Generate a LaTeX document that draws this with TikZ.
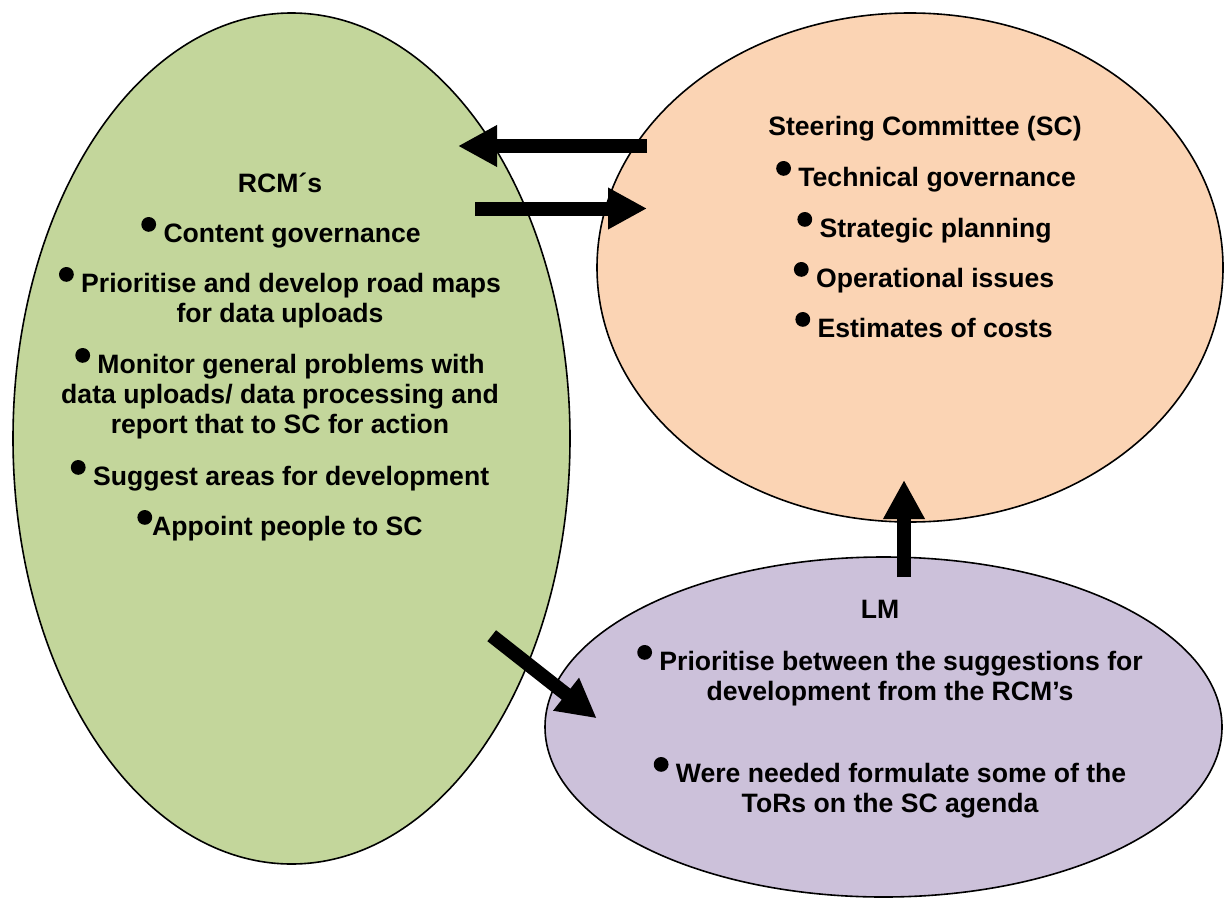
\documentclass[tikz,border=0pt]{standalone}
\usepackage{fontspec}
\setmainfont{Liberation Sans}
\usetikzlibrary{arrows.meta,shapes.geometric}

\definecolor{rcmgreen}{RGB}{195,214,155}
\definecolor{scorange}{RGB}{251,212,180}
\definecolor{lmpurple}{RGB}{204,193,218}
\newcommand{\bul}{\tikz[baseline=-8.8pt]\fill (0,0) circle (3.7pt);}

\begin{document}
\begin{tikzpicture}[x=0.5pt,y=-0.5pt,
        bubble/.style={draw,ellipse,line width=0.8pt,inner sep=0pt},
        txt/.style={font=\bfseries\fontsize{13.3}{15}\selectfont,align=center,anchor=base,inner sep=0pt},
        fat/.style={line width=7pt,-{Triangle[width=19.5pt,length=19.5pt]}}]
        \useasboundingbox (0,0) rectangle (1224,899);
        % the three groups
        \node [bubble,fill=rcmgreen,minimum width=278.5pt,minimum height=425.5pt] (rcm) at (291.5,438.5) {};
        \node [bubble,fill=scorange,minimum width=313pt,minimum height=254.5pt] (sc) at (910,267.5) {};
        \node [bubble,fill=lmpurple,minimum width=338.5pt,minimum height=170pt] (lm) at (883.5,727) {};
        % RCM (base = last line)
        \node [txt] (rcmtitle) at (280,192) {RCM´s};
        \node [txt] (rcm1) at (281,242) {\bul{} Content governance};
        \node [txt] (rcm2) at (280,322) {\bul{} Prioritise and develop road maps\\for data uploads};
        \node [txt] (rcm3) at (280,433) {\bul{} Monitor general problems with\\data uploads/ data processing and\\report that to SC for action};
        \node [txt] (rcm4) at (280,485) {\bul{} Suggest areas for development};
        \node [txt] (rcm5) at (280,535) {\bul{}Appoint people to SC};
        % SC
        \node [txt] (sctitle) at (925,135) {Steering Committee (SC)};
        \node [txt] (sc1) at (926,186) {\bul{} Technical governance};
        \node [txt] (sc2) at (924.5,237) {\bul{} Strategic planning};
        \node [txt] (sc3) at (924,287) {\bul{} Operational issues};
        \node [txt] (sc4) at (924,337) {\bul{} Estimates of costs};
        % LM
        \node [txt] (lmtitle) at (880,618) {LM};
        \node [txt] (lm1) at (890,700) {\bul{} Prioritise between the suggestions for\\development from the RCM’s};
        \node [txt] (lm2) at (890,812) {\bul{} Were needed formulate some of the\\ToRs on the SC agenda};
        % arrows
        \coordinate (sctorcmA) at (647,146);
        \coordinate (sctorcmB) at (458,146);
        \coordinate (rcmtoscA) at (475,208.5);
        \coordinate (rcmtoscB) at (647,208.5);
        \coordinate (lmtoscA) at (904,577);
        \coordinate (lmtoscB) at (904,480);
        \coordinate (rcmtolmA) at (491.7,635.7);
        \coordinate (rcmtolmB) at (596.7,718.3);
        \draw [fat] (sctorcmA) -- (sctorcmB);
        \draw [fat] (rcmtoscA) -- (rcmtoscB);
        \draw [fat] (lmtoscA) -- (lmtoscB);
        \draw [fat] (rcmtolmA) -- (rcmtolmB);
\end{tikzpicture}
\end{document}
